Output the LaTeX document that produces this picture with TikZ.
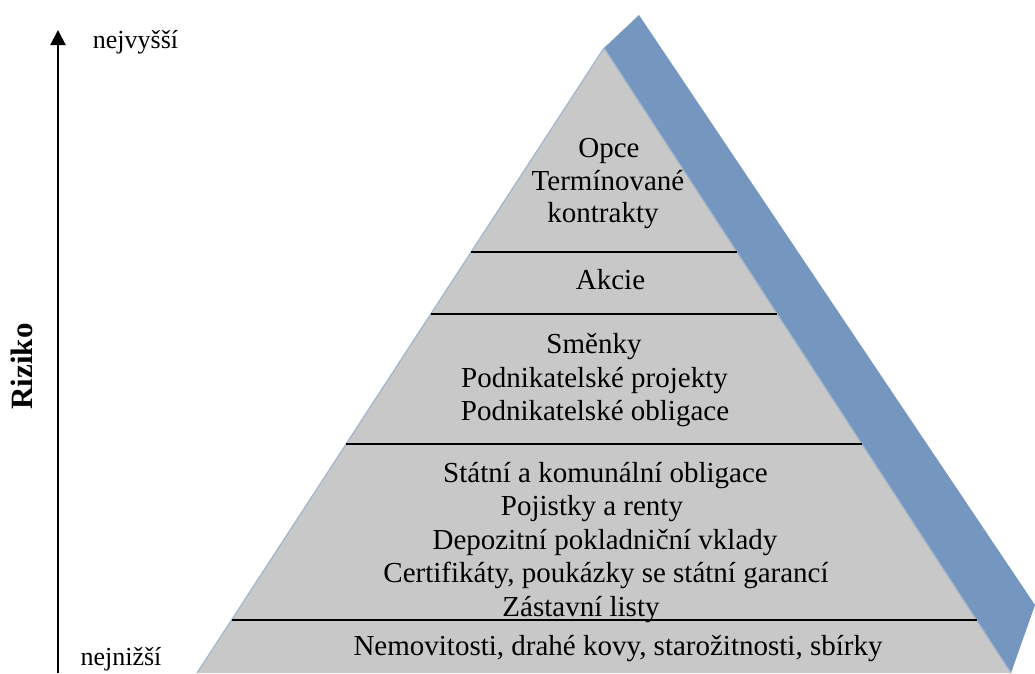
\documentclass[tikz,border=0pt]{standalone}
\usepackage{fontspec}
\setmainfont{Liberation Serif}
\usetikzlibrary{arrows.meta}
\definecolor{pgray}{RGB}{200,200,200}
\definecolor{pblue}{RGB}{116,150,191}
\definecolor{pedge}{RGB}{160,182,208}
\begin{document}
\begin{tikzpicture}[x=1pt,y=-1pt,
  lbl/.style={font=\fontsize{29}{33.5}\selectfont, anchor=base, inner sep=0pt},
  sidelbl/.style={font=\fontsize{26}{30}\selectfont, anchor=base, inner sep=0pt},
  divider/.style={line width=2pt, black},
  axisline/.style={line width=2pt, black, -{Triangle[length=15pt,width=15pt]}}]
\useasboundingbox (0,0) rectangle (1035,673);
% pyramid geometry
\coordinate (apex) at (604,48);
\coordinate (bl) at (197,673);
\coordinate (br) at (1011,673);
\coordinate (bandtop) at (639,15);
\coordinate (bandbot) at (1035,605);
% side band
\fill[pblue] (apex) -- (bandtop) -- (bandbot) -- (br) -- cycle;
% pyramid face
\fill[pgray] (apex) -- (br) -- (bl) -- cycle;
\draw[pedge, line width=1.2pt] (bl) -- (apex) -- (br);
% dividers
\coordinate (d1l) at (471.2,252); \coordinate (d1r) at (736.8,252);
\coordinate (d2l) at (430.8,314); \coordinate (d2r) at (777.2,314);
\coordinate (d3l) at (346.1,444); \coordinate (d3r) at (861.9,444);
\coordinate (d4l) at (231.5,620); \coordinate (d4r) at (976.5,620);
\draw[divider] (d1l) -- (d1r);
\draw[divider] (d2l) -- (d2r);
\draw[divider] (d3l) -- (d3r);
\draw[divider] (d4l) -- (d4r);
% texts
\node[lbl] (t1) at (609,157) {Opce};
\node[lbl] (t2) at (608,190) {Termínované};
\node[lbl] (t3) at (603,222) {kontrakty};
\node[lbl] (t4) at (610.5,289) {Akcie};
\node[lbl] (t5) at (594,353) {Směnky};
\node[lbl] (t6) at (594.5,387) {Podnikatelské projekty};
\node[lbl] (t7) at (595,420) {Podnikatelské obligace};
\node[lbl] (t8) at (605.5,482) {Státní a komunální obligace};
\node[lbl] (t9) at (592,515.5) {Pojistky a renty};
\node[lbl] (t10) at (605,549) {Depozitní pokladniční vklady};
\node[lbl] (t11) at (606,582.5) {Certifikáty, poukázky se státní garancí};
\node[lbl] (t12) at (581,616) {Zástavní listy};
\node[lbl] (t13) at (618,655) {Nemovitosti, drahé kovy, starožitnosti, sbírky};
% axis
\coordinate (axbot) at (58,673);
\coordinate (axtop) at (58,30);
\draw[axisline] (axbot) -- (axtop);
\node[sidelbl] (hi) at (135.5,48) {nejvyšší};
\node[sidelbl] (lo) at (121,665) {nejnižší};
\node[font=\fontsize{31}{34}\selectfont\bfseries, rotate=90, inner sep=0pt] (risk) at (22,366.5) {Riziko};
\end{tikzpicture}
\end{document}
